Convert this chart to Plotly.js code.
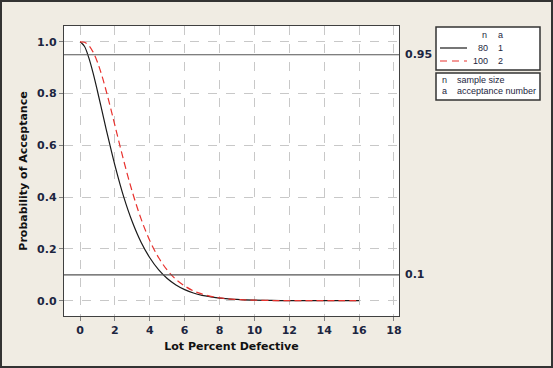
<!DOCTYPE html>
<html>
<head>
<meta charset="utf-8">
<script src="https://cdn.plot.ly/plotly-3.0.1.min.js"></script>
<style>
html,body{margin:0;padding:0;background:#f0ece3;}
#chart{width:553px;height:368px;}
</style>
</head>
<body>
<div id="chart"></div>
<script>
// Lot percent defective (x) and probability of acceptance for each plan
const lotPctDefective = [0,0.25,0.5,0.75,1,1.25,1.5,1.75,2,2.5,3,3.5,4,4.5,5,5.5,6,6.5,7,7.5,8,8.5,9,9.5,10,11,12,13,14,15,16];
const pA_n80_a1  = [1,0.983,0.939,0.879,0.809,0.736,0.662,0.591,0.523,0.402,0.304,0.226,0.166,0.120,0.086,0.061,0.043,0.030,0.021,0.015,0.010,0.007,0.005,0.003,0.002,0.001,0.0004,0.00015,0,0,0];
const pA_n100_a2 = [1,0.998,0.986,0.960,0.921,0.870,0.810,0.745,0.677,0.542,0.420,0.316,0.232,0.167,0.118,0.082,0.057,0.038,0.026,0.017,0.011,0.007,0.005,0.003,0.002,0.0008,0.0003,0.0001,0,0,0];
const refLevels = [0.95, 0.1];
const refLabels = ["0.95", "0.1"];
const xTicks = [0,2,4,6,8,10,12,14,16,18];
const yTicks = [0,0.2,0.4,0.6,0.8,1.0];
const yTickText = ["0.0","0.2","0.4","0.6","0.8","1.0"];
const legendHeader = ["n", "a"];
const plans = [["80","1"],["100","2"]];
const notes = [["n","sample size"],["a","acceptance number"]];

const L = 64, R = 399, T = 26, B = 316;
const W = 553, H = 368;
const px = x => (x - L) / (R - L);
const py = y => (B - y) / (B - T);

const tickFont = {family: "DejaVu Sans", size: 11, color: "#1c2540", weight: "bold"};
const titleFont = {family: "DejaVu Sans", size: 11, color: "#111111", weight: "bold"};
const traces = [
  {x: lotPctDefective, y: pA_n80_a1, mode: "lines", line: {color: "#1a1a1a", width: 1.2, shape: "spline"}, hoverinfo: "skip"},
  {x: lotPctDefective, y: pA_n100_a2, mode: "lines", line: {color: "#e8322e", width: 1.2, dash: "7px,4px", shape: "spline"}, hoverinfo: "skip"}
];

const shapes = [];
const annotations = [];
refLevels.forEach((v, i) => {
  shapes.push({type: "line", xref: "paper", yref: "y", x0: 0, x1: 1, y0: v, y1: v, line: {color: "#555555", width: 1.2}});
  annotations.push({xref: "paper", yref: "y", x: px(403), y: v, xanchor: "left", yanchor: "middle", text: refLabels[i], showarrow: false, font: {family: "DejaVu Sans", size: 11, color: "#1c2540", weight: "bold"}});
});
// legend boxes
shapes.push({type: "rect", xref: "paper", yref: "paper", x0: px(436), x1: px(540), y0: py(70), y1: py(27), line: {color: "#333333", width: 1.5}, fillcolor: "#ffffff", layer: "above"});
shapes.push({type: "rect", xref: "paper", yref: "paper", x0: px(436), x1: px(540), y0: py(100), y1: py(73), line: {color: "#333333", width: 1.5}, fillcolor: "#ffffff", layer: "above"});
shapes.push({type: "line", xref: "paper", yref: "paper", x0: px(440), x1: px(467), y0: py(48), y1: py(48), line: {color: "#1a1a1a", width: 1.2}, layer: "above"});
shapes.push({type: "line", xref: "paper", yref: "paper", x0: px(440), x1: px(467), y0: py(61), y1: py(61), line: {color: "#e8322e", width: 1.2, dash: "7px,5px"}, layer: "above"});
// outer frame
shapes.push({type: "rect", xref: "paper", yref: "paper", x0: px(1), x1: px(552), y0: py(367), y1: py(1), line: {color: "#333333", width: 2}, layer: "above"});

const legFont = {family: "Liberation Sans", size: 9, color: "#1c2540"};
annotations.push({xref: "paper", yref: "paper", x: px(489), y: py(35), xanchor: "right", yanchor: "middle", text: legendHeader[0], showarrow: false, font: legFont});
annotations.push({xref: "paper", yref: "paper", x: px(496), y: py(35), xanchor: "left", yanchor: "middle", text: legendHeader[1], showarrow: false, font: legFont});
plans.forEach((p, i) => {
  const yy = 48 + i * 13;
  annotations.push({xref: "paper", yref: "paper", x: px(490), y: py(yy), xanchor: "right", yanchor: "middle", text: p[0], showarrow: false, font: legFont});
  annotations.push({xref: "paper", yref: "paper", x: px(496), y: py(yy), xanchor: "left", yanchor: "middle", text: p[1], showarrow: false, font: legFont});
});
notes.forEach((n, i) => {
  const yy = 80 + i * 11;
  annotations.push({xref: "paper", yref: "paper", x: px(440), y: py(yy), xanchor: "left", yanchor: "middle", text: n[0], showarrow: false, font: legFont});
  annotations.push({xref: "paper", yref: "paper", x: px(455), y: py(yy), xanchor: "left", yanchor: "middle", text: n[1], showarrow: false, font: legFont});
});

const layout = {
  width: W, height: H,
  margin: {l: L, r: W - R, t: T, b: H - B, pad: 0},
  paper_bgcolor: "#f0ece3",
  plot_bgcolor: "#ffffff",
  showlegend: false,
  xaxis: {
    range: [-0.92, 18.29], tickvals: xTicks, ticktext: xTicks.map(String),
    showgrid: true, gridcolor: "#c8c8c8", griddash: "dash", gridwidth: 1,
    zeroline: false, showline: true, linecolor: "#404040", linewidth: 1.2, mirror: true,
    ticks: "outside", ticklen: 4, tickcolor: "#808080",
    tickfont: tickFont,
    title: {text: "Lot Percent Defective", font: titleFont, standoff: 5}
  },
  yaxis: {
    range: [-0.059, 1.061], tickvals: yTicks, ticktext: yTickText,
    showgrid: true, gridcolor: "#c8c8c8", griddash: "dash", gridwidth: 1,
    zeroline: false, showline: true, linecolor: "#404040", linewidth: 1.2, mirror: true,
    ticks: "outside", ticklen: 4, tickcolor: "#808080",
    tickfont: tickFont,
    title: {text: "Probability of Acceptance", font: titleFont, standoff: 7}
  },
  shapes: shapes,
  annotations: annotations
};

Plotly.newPlot("chart", traces, layout, {displayModeBar: false, staticPlot: true});
</script>
</body>
</html>
